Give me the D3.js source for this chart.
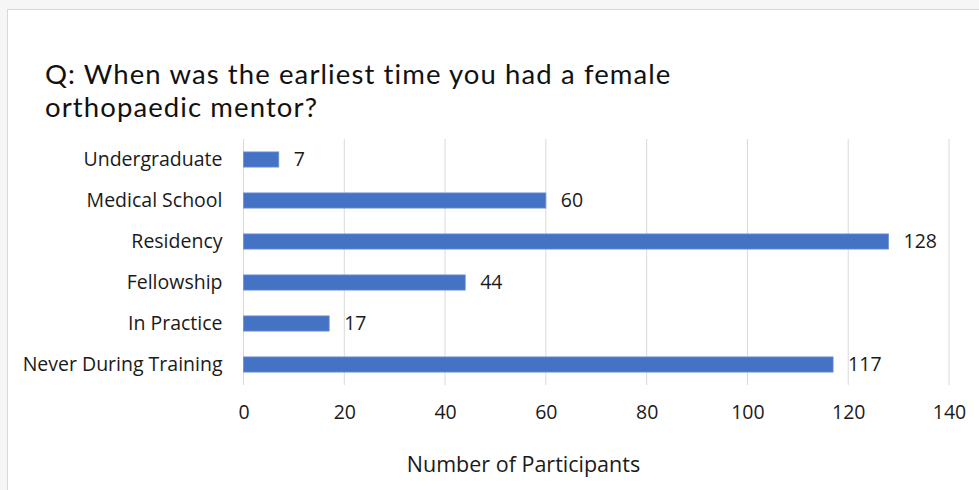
<!DOCTYPE html>
<html>
<head>
<meta charset="utf-8">
<script src="https://cdn.jsdelivr.net/npm/d3@7"></script>
<style>
  html, body { margin: 0; padding: 0; background: #f7f6f7; }
  svg { display: block; font-family: "Open Sans", sans-serif; }
</style>
</head>
<body>
<div id="chart"></div>
<script>
// Data
const categories = ["Undergraduate", "Medical School", "Residency", "Fellowship", "In Practice", "Never During Training"];
const values = [7, 60, 128, 44, 17, 117];
const xTicks = [0, 20, 40, 60, 80, 100, 120, 140];
const titleLines = ["Q: When was the earliest time you had a female", "orthopaedic mentor?"];

const width = 979;
const height = 490;
const plot = { left: 243.5, right: 949, top: 139, bottom: 385 };

const svg = d3.select("#chart")
  .append("svg")
  .attr("width", width)
  .attr("height", height);

// chart frame
svg.append("rect")
  .attr("x", 7.5)
  .attr("y", 9.5)
  .attr("width", width)
  .attr("height", height)
  .attr("fill", "white")
  .attr("stroke", "#d9d9d9");

// Scales
const x = d3.scaleLinear()
  .domain([0, 140])
  .range([plot.left, plot.right]);

const y = d3.scaleBand()
  .domain(categories)
  .range([plot.top, plot.bottom])
  .paddingInner(0.63)
  .paddingOuter(0.315);

// Gridlines
svg.append("g")
  .selectAll("line")
  .data(xTicks)
  .enter()
  .append("line")
  .attr("x1", d => x(d))
  .attr("x2", d => x(d))
  .attr("y1", plot.top)
  .attr("y2", plot.bottom)
  .attr("stroke", "#d9d9d9")
  .attr("stroke-width", 1);

// X axis tick labels
const xAxis = svg.append("g")
  .attr("transform", `translate(0, ${plot.bottom})`)
  .call(d3.axisBottom(x).tickValues(xTicks).tickSize(0).tickPadding(20));
xAxis.select(".domain").remove();
xAxis.selectAll("text")
  .style("font-size", "19.5px")
  .style("font-family", "'Open Sans', sans-serif")
  .attr("fill", "#1a1a1a");

// Y axis labels
const yAxis = svg.append("g")
  .attr("transform", `translate(${plot.left}, 0)`)
  .call(d3.axisLeft(y).tickSize(0).tickPadding(21));
yAxis.select(".domain").remove();
yAxis.selectAll("text")
  .style("font-size", "19.5px")
  .style("font-family", "'Open Sans', sans-serif")
  .attr("fill", "#1a1a1a");

// Bars
svg.append("g")
  .selectAll("rect")
  .data(values)
  .enter()
  .append("rect")
  .attr("x", x(0))
  .attr("y", (d, i) => y(categories[i]))
  .attr("width", d => x(d) - x(0))
  .attr("height", y.bandwidth())
  .attr("fill", "#4472c4")
  .attr("stroke", "#6f93d4")
  .attr("stroke-width", 0.8);

// Value labels
svg.append("g")
  .selectAll("text")
  .data(values)
  .enter()
  .append("text")
  .attr("x", d => x(d) + 15)
  .attr("y", (d, i) => y(categories[i]) + y.bandwidth() / 2)
  .attr("dy", "0.35em")
  .style("font-size", "19.5px")
  .attr("fill", "#1a1a1a")
  .text(d => d);

// Title (two lines, Lato keeps the line boxes from overlapping)
svg.append("g")
  .selectAll("text")
  .data(titleLines)
  .enter()
  .append("text")
  .attr("x", 45)
  .attr("y", (d, i) => 84 + i * 33)
  .style("font-family", "Lato, sans-serif")
  .style("font-size", "27.5px")
  .style("letter-spacing", "1.1px")
  .attr("fill", "#111")
  .text(d => d);

// Axis title
svg.append("text")
  .attr("x", 523.5)
  .attr("y", 472)
  .attr("text-anchor", "middle")
  .style("font-size", "21.5px")
  .attr("fill", "#1a1a1a")
  .text("Number of Participants");
</script>
</body>
</html>
